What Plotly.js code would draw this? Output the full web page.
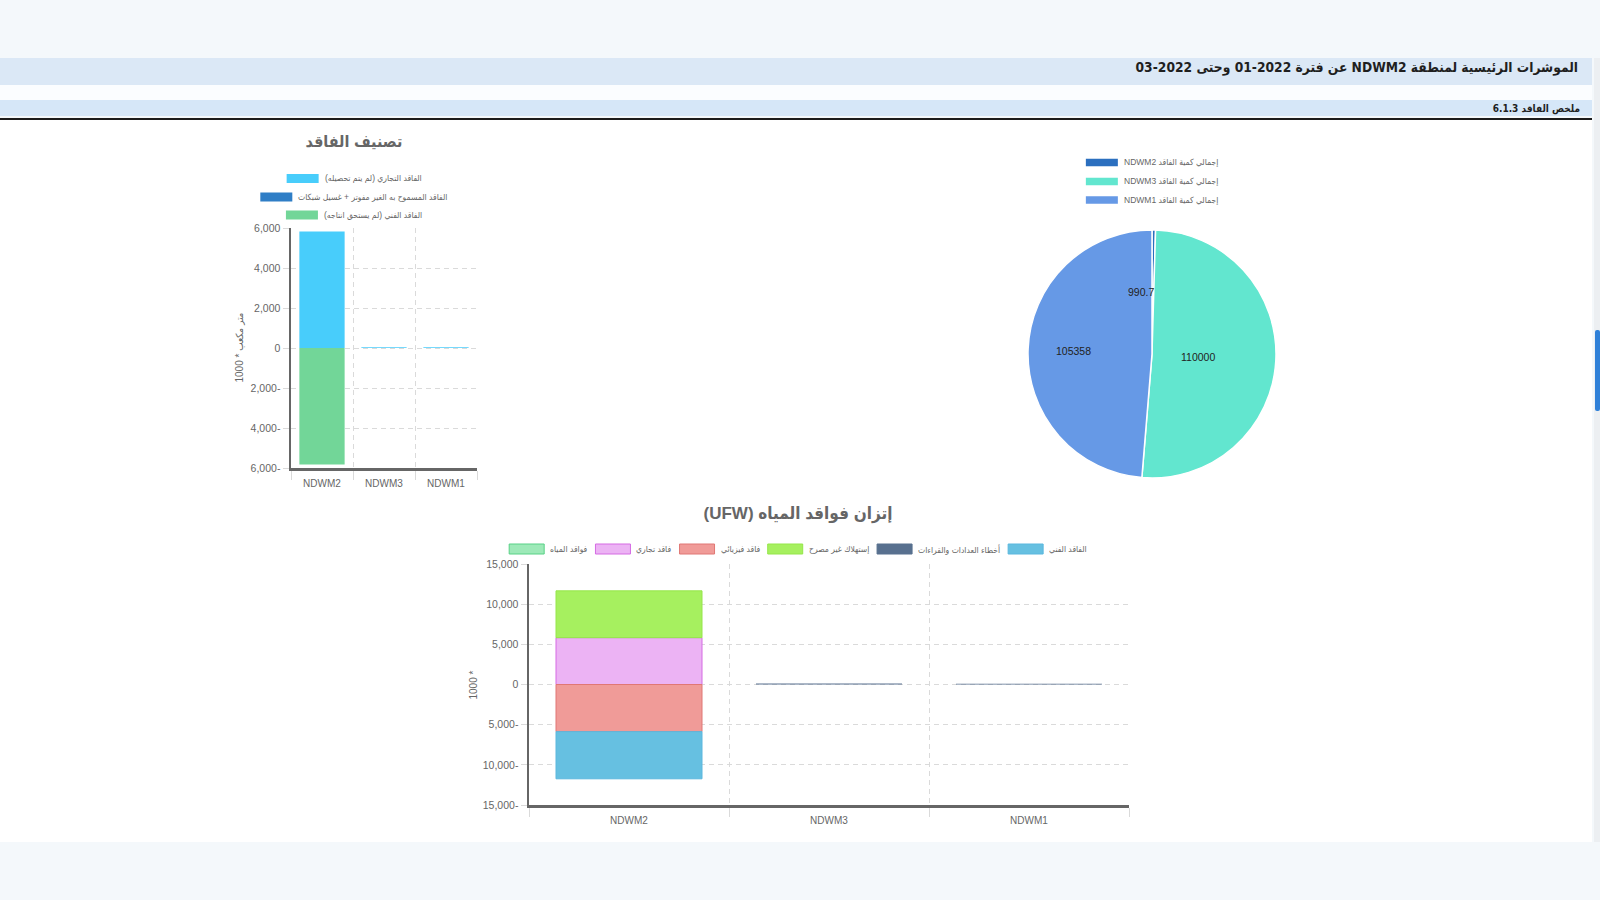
<!DOCTYPE html>
<html lang="ar">
<head>
<meta charset="utf-8">
<title>ملخص الفاقد</title>
<script src="https://cdn.plot.ly/plotly-3.0.1.min.js"></script>
<style>
  html, body { margin: 0; padding: 0; width: 1600px; height: 900px; overflow: hidden;
    background: #f4f8fb; font-family: "DejaVu Sans Condensed", "DejaVu Sans", sans-serif; }
  .band { position: absolute; left: 0; width: 1592px; }
  .band span { position: absolute; right: 14px; color: #1f1f1f; font-weight: bold; white-space: nowrap; }
  #band1 { top: 58px; height: 27px; background: #dbe8f6; }
  #band1 span { top: -2px; line-height: 22px; font-size: 13.7px; }
  #gap { position: absolute; left: 0; top: 85px; width: 1592px; height: 15px; background: #fbfdff; }
  #band2 { top: 100px; height: 16px; background: #d6e7f8; }
  #band2 span { top: 0; line-height: 17px; font-size: 10px; right: 12px; }
  #rule { position: absolute; left: 0; top: 118px; width: 1592px; height: 2px; background: #1c1c1c; }
  #content { position: absolute; left: 0; top: 120px; width: 1592px; height: 722px; background: #ffffff; }
  .chart { position: absolute; }
  #scroll { position: absolute; left: 1594px; top: 58px; width: 6px; height: 784px; background: #eceff2; }
  #thumb { position: absolute; left: 1px; top: 272px; width: 5px; height: 81px; background: #2f80d8; border-radius: 2px; }
</style>
</head>
<body>
<div id="band1" class="band" dir="rtl"><span>الموشرات الرئيسية لمنطقة NDWM2 عن فترة 2022-01 وحتى 2022-03</span></div>
<div id="gap"></div>
<div id="band2" class="band" dir="rtl"><span>ملخص الفاقد 6.1.3</span></div>
<div id="rule"></div>
<div id="content"></div>
<div id="chartClass" class="chart"></div>
<div id="chartTotal" class="chart"></div>
<div id="chartUfw" class="chart"></div>
<div id="scroll"><div id="thumb"></div></div>

<script>
// ---------------- data ----------------
const stations = ['NDWM2', 'NDWM3', 'NDWM1'];

// تصنيف الفاقد (1000 * متر مكعب)
const classNames = [
  'الفاقد التجاري (لم يتم تحصيله)',
  'الفاقد المسموح به الغير مفوتر + غسيل شبكات',
  'الفاقد الفني (لم يستحق انتاجه)'
];
const classCommercial = [5830, 40, 35];
const classAllowed = [0, 0, 0];
const classTechnical = [-5830, 0, 0];
const classTicks = [-6000, -4000, -2000, 0, 2000, 4000, 6000];

// إجمالي كمية الفاقد لكل منطقة
const totalLossLabel = 'إجمالي كمية الفاقد';
const totalLoss = [990.7, 110000, 105358];

// إتزان فواقد المياه (UFW)
const ufwNames = [
  'فواقد المياه',
  'فاقد تجاري',
  'فاقد فيزيائي',
  'إستهلاك غير مصرح',
  'أخطاء العدادات والقراءات',
  'الفاقد الفني'
];
const ufwWater = [0, 0, 0];
const ufwCommercial = [5830, 0, 0];
const ufwPhysical = [-5870, 0, 0];
const ufwUnauthorized = [5830, 0, 0];
const ufwMeterErrors = [0, 110, 90];
const ufwTechnical = [-5870, 0, 0];
const ufwTicks = [-15000, -10000, -5000, 0, 5000, 10000, 15000];

// ---------------- styling ----------------
const FONT = '"Liberation Sans", Arial, "DejaVu Sans Condensed", "DejaVu Sans", sans-serif';
const GRID = '#dadada';
const AXIS = '#666666';
const TEXT = '#666666';
const LEGEND_SIZE = 8.5;

const classColors = ['#48cdfb', '#2f7ec6', '#72d698'];
const pieColors = ['#2b6fbf', '#62e6cf', '#6699e6'];
const ufwFill = ['#9de9b8', '#ecb3f4', '#f09b98', '#a6f05f', '#58708f', '#66c0e1'];
const ufwLine = ['#58d186', '#d56be3', '#e07774', '#95e64a', '#58708f', '#5ab7de'];

// Right-to-left isolate so Arabic strings and signed numbers read as in an RTL page
const rtl = s => '\u2067' + s + '\u2069';
const fmtTick = v => rtl(v.toLocaleString('en-US'));

const measureCtx = document.createElement('canvas').getContext('2d');
function textWidth(str, size) {
  measureCtx.font = size + 'px ' + FONT;
  return measureCtx.measureText(str).width;
}

// page pixel -> paper coordinates of a chart box
function converter(c) {
  const pw = c.W - c.m.l - c.m.r, ph = c.H - c.m.t - c.m.b;
  return {
    x: px => (px - c.left - c.m.l) / pw,
    y: py => (c.top + c.H - c.m.b - py) / ph
  };
}

function placeBox(id, c) {
  const el = document.getElementById(id);
  el.style.left = c.left + 'px';
  el.style.top = c.top + 'px';
  el.style.width = c.W + 'px';
  el.style.height = c.H + 'px';
}

// Chart.js-like legend: wide colour boxes followed by the label, rows centred
function buildLegend(conv, rows, o) {
  const shapes = [], annotations = [];
  rows.forEach(row => {
    const widths = row.items.map(it => o.boxW + o.gap + textWidth(it.text, o.size));
    const total = widths.reduce((a, b) => a + b, 0) + o.itemGap * (row.items.length - 1);
    let x = o.cx - total / 2;
    row.items.forEach((it, i) => {
      shapes.push({
        type: 'rect', xref: 'paper', yref: 'paper', layer: 'above',
        x0: conv.x(x), x1: conv.x(x + o.boxW),
        y0: conv.y(row.y + o.boxH / 2), y1: conv.y(row.y - o.boxH / 2),
        fillcolor: it.fill, line: { color: it.line || it.fill, width: it.line ? 1 : 0 }
      });
      annotations.push({
        xref: 'paper', yref: 'paper', x: conv.x(x + o.boxW + o.gap - 2), y: conv.y(row.y),
        xanchor: 'left', yanchor: 'middle', showarrow: false, text: it.text,
        font: { size: o.size, color: TEXT, family: FONT }
      });
      x += widths[i] + o.itemGap;
    });
  });
  return { shapes, annotations };
}

function axisCommon() {
  return {
    showgrid: true, gridcolor: GRID, gridwidth: 1, griddash: '5px,4px',
    showline: true, linecolor: AXIS, linewidth: 2.5,
    ticks: 'outside', ticklen: 6, tickcolor: GRID,
    zeroline: false, fixedrange: true
  };
}

function categoryAxis() {
  return Object.assign(axisCommon(), {
    type: 'category', range: [-0.5, 2.5], tickson: 'boundaries',
    ticklen: 9, ticklabelstandoff: 4, tickfont: { size: 10 }
  });
}

const config = { displayModeBar: false, staticPlot: true, responsive: false };

// ---------------- تصنيف الفاقد ----------------
(function () {
  const c = { left: 200, top: 125, W: 300, H: 380, m: { l: 91, r: 23, t: 103, b: 37 } };
  placeBox('chartClass', c);
  const conv = converter(c);
  const values = [classCommercial, classAllowed, classTechnical];
  const traces = values.map((v, i) => ({
    type: 'bar', x: stations, y: v, name: classNames[i],
    marker: { color: classColors[i], line: { width: 0 } }
  }));
  const lg = buildLegend(conv, [
    { y: 178.5, items: [{ text: rtl(classNames[0]), fill: classColors[0] }] },
    { y: 197, items: [{ text: rtl(classNames[1]), fill: classColors[1] }] },
    { y: 215, items: [{ text: rtl(classNames[2]), fill: classColors[2] }] }
  ], { cx: 354, boxW: 32, boxH: 9, gap: 6, itemGap: 10, size: LEGEND_SIZE });
  lg.annotations.push({
    xref: 'paper', yref: 'paper', x: conv.x(231), y: conv.y(348), textangle: -90,
    showarrow: false, text: rtl('متر مكعب * 1000'), font: { size: 10, color: TEXT, family: FONT }
  });
  const layout = {
    width: c.W, height: c.H, margin: Object.assign({ pad: 0 }, c.m),
    paper_bgcolor: 'rgba(0,0,0,0)', plot_bgcolor: 'rgba(0,0,0,0)',
    barmode: 'relative', bargap: 0.27, showlegend: false,
    font: { family: FONT, color: TEXT, size: 10.5 },
    title: {
      text: 'تصنيف الفاقد', font: { size: 16, color: TEXT, weight: 'bold', family: FONT },
      xref: 'container', yref: 'container', x: (354 - c.left) / c.W, y: 1 - (141 - c.top) / c.H,
      xanchor: 'center', yanchor: 'middle'
    },
    xaxis: categoryAxis(),
    yaxis: Object.assign(axisCommon(), {
      range: [-6000, 6000], tickmode: 'array', tickvals: classTicks, ticktext: classTicks.map(fmtTick)
    }),
    shapes: lg.shapes, annotations: lg.annotations
  };
  Plotly.newPlot('chartClass', traces, layout, config);
})();

// ---------------- إجمالي كمية الفاقد ----------------
(function () {
  const c = { left: 1000, top: 125, W: 310, H: 370, m: { l: 28, r: 34, t: 105, b: 17 } };
  placeBox('chartTotal', c);
  const conv = converter(c);
  const labels = stations.map(s => rtl(totalLossLabel + ' ' + s));
  const trace = {
    type: 'pie', values: totalLoss, labels: labels, sort: false,
    direction: 'clockwise', rotation: 0, textinfo: 'none', hoverinfo: 'label+value',
    marker: { colors: pieColors, line: { color: '#ffffff', width: 1.5 } },
    domain: { x: [0, 1], y: [0, 1] }
  };
  // value labels at half radius on each slice's mid angle, right-aligned
  const pw = c.W - c.m.l - c.m.r, ph = c.H - c.m.t - c.m.b;
  const cx = c.left + c.m.l + pw / 2, cy = c.top + c.m.t + ph / 2, R = Math.min(pw, ph) / 2;
  const total = totalLoss.reduce((a, b) => a + b, 0);
  let cum = 0;
  const valueLabels = totalLoss.map(v => {
    const mid = (cum + v / 2) / total * 2 * Math.PI;
    cum += v;
    return {
      xref: 'paper', yref: 'paper',
      x: conv.x(cx + 0.5 * R * Math.sin(mid) + 3), y: conv.y(cy - 0.5 * R * Math.cos(mid)),
      xanchor: 'right', yanchor: 'middle', showarrow: false, text: String(v),
      font: { size: 10.5, color: '#222', family: FONT }
    };
  });
  const lg = buildLegend(conv, stations.map((s, i) => ({
    y: [162.5, 181.5, 200][i], items: [{ text: labels[i], fill: pieColors[i] }]
  })), { cx: 1152, boxW: 32, boxH: 7.5, gap: 6, itemGap: 10, size: LEGEND_SIZE });
  const layout = {
    width: c.W, height: c.H, margin: Object.assign({ pad: 0 }, c.m),
    paper_bgcolor: 'rgba(0,0,0,0)', showlegend: false,
    font: { family: FONT, color: TEXT },
    shapes: lg.shapes, annotations: valueLabels.concat(lg.annotations)
  };
  Plotly.newPlot('chartTotal', [trace], layout, config);
})();

// ---------------- إتزان فواقد المياه (UFW) ----------------
(function () {
  const c = { left: 430, top: 490, W: 740, H: 350, m: { l: 99, r: 41, t: 74, b: 35 } };
  placeBox('chartUfw', c);
  const conv = converter(c);
  const series = [ufwWater, ufwCommercial, ufwPhysical, ufwUnauthorized, ufwMeterErrors, ufwTechnical];
  // stacking order: positives and negatives build outward from zero in this order
  const stackOrder = [1, 2, 3, 5, 0, 4];
  const traces = stackOrder.map(i => ({
    type: 'bar', x: stations, y: series[i], name: ufwNames[i],
    marker: {
      color: ufwFill[i],
      line: { color: ufwLine[i], width: series[i].map(v => (v === 0 || i === 4) ? 0 : 1) }
    }
  }));
  const lg = buildLegend(conv, [{
    y: 549, items: ufwNames.map((n, i) => ({ text: rtl(n), fill: ufwFill[i], line: ufwLine[i] }))
  }], { cx: 798, boxW: 35, boxH: 10, gap: 6, itemGap: 8, size: LEGEND_SIZE });
  lg.annotations.push({
    xref: 'paper', yref: 'paper', x: conv.x(465), y: conv.y(685), textangle: -90,
    showarrow: false, text: '1000 *', font: { size: 10, color: TEXT, family: FONT }
  });
  const layout = {
    width: c.W, height: c.H, margin: Object.assign({ pad: 0 }, c.m),
    paper_bgcolor: 'rgba(0,0,0,0)', plot_bgcolor: 'rgba(0,0,0,0)',
    barmode: 'relative', bargap: 0.27, showlegend: false,
    font: { family: FONT, color: TEXT, size: 10.5 },
    title: {
      text: rtl('إتزان فواقد المياه (UFW)'), font: { size: 17, color: TEXT, weight: 'bold', family: FONT },
      xref: 'container', yref: 'container', x: (798 - c.left) / c.W, y: 1 - (513 - c.top) / c.H,
      xanchor: 'center', yanchor: 'middle'
    },
    xaxis: categoryAxis(),
    yaxis: Object.assign(axisCommon(), {
      range: [-15000, 15000], tickmode: 'array', tickvals: ufwTicks, ticktext: ufwTicks.map(fmtTick)
    }),
    shapes: lg.shapes, annotations: lg.annotations
  };
  Plotly.newPlot('chartUfw', traces, layout, config);
})();
</script>
</body>
</html>
